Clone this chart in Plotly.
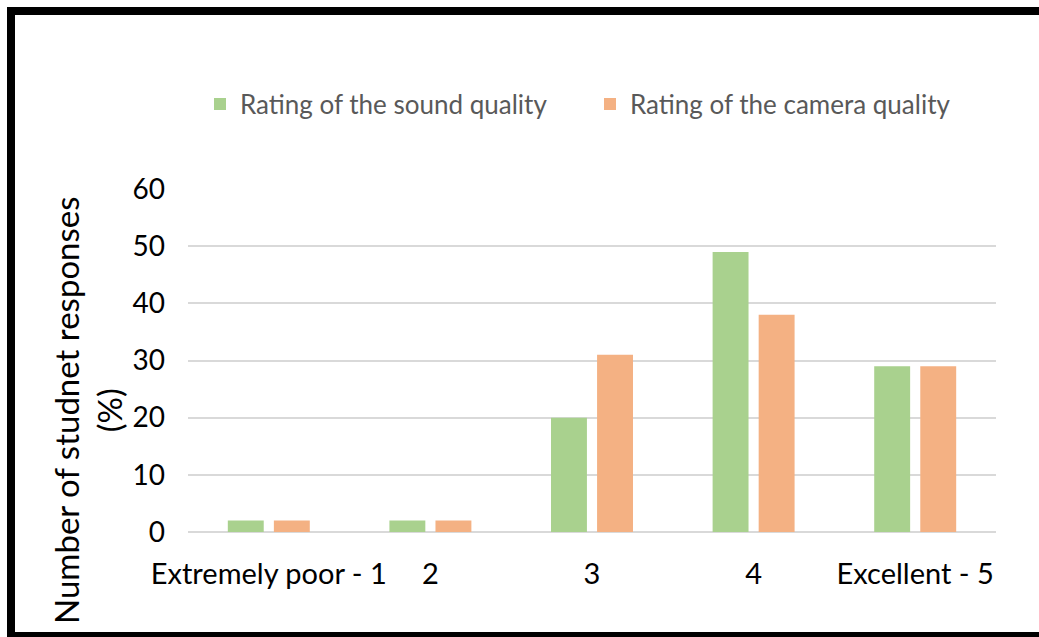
import plotly.graph_objects as go

categories = ["Extremely poor - 1", "2", "3", "4", "Excellent - 5"]
sound_quality = [2, 2, 20, 49, 29]
camera_quality = [2, 2, 31, 38, 29]
series_names = ["Rating of the sound quality", "Rating of the camera quality"]
y_ticks = [0, 10, 20, 30, 40, 50, 60]

W, H = 1039, 637
L, R, T, B = 188, 43, 189, 105
pw, ph = W - L - R, H - T - B

def px_x(x):
    return (x - L) / pw

def px_y(y):
    return (H - B - y) / ph

FONT = "Lato"

fig = go.Figure()
fig.add_trace(go.Bar(x=categories, y=sound_quality, name=series_names[0],
                     marker=dict(color="#a9d18e", line=dict(width=0))))
fig.add_trace(go.Bar(x=categories, y=camera_quality, name=series_names[1],
                     marker=dict(color="#f4b183", line=dict(width=0))))

fig.update_layout(
    width=W, height=H,
    margin=dict(l=L, r=R, t=T, b=B),
    paper_bgcolor="white", plot_bgcolor="white",
    barmode="group", bargap=0.43, bargroupgap=0.22,
    font=dict(family=FONT, color="#000000"),
    legend=dict(orientation="h", x=px_x(200), xanchor="left",
                y=px_y(104), yanchor="middle",
                font=dict(size=26, color="#595959", family=FONT),
                entrywidth=345, entrywidthmode="pixels",
                bgcolor="rgba(0,0,0,0)"),
    showlegend=True,
)
fig.update_xaxes(showgrid=False, showline=False, ticks="",
                 tickfont=dict(size=29, color="#000000", family=FONT),
                 ticklabelstandoff=22)
fig.update_yaxes(range=[0, 60], tickvals=y_ticks, showgrid=True,
                 gridcolor="#d9d9d9", gridwidth=1.5, zeroline=True,
                 zerolinecolor="#d9d9d9", zerolinewidth=1.5, showline=False,
                 ticks="", tickfont=dict(size=28, color="#000000", family=FONT),
                 ticklabelstandoff=22)

fig.add_annotation(text="Number of studnet responses<br>(%)",
                   x=px_x(87), y=px_y(410), xref="paper", yref="paper",
                   textangle=-90, showarrow=False, xanchor="center", yanchor="middle",
                   font=dict(size=33, color="#000000", family=FONT))

# outer black frame
fig.add_shape(type="rect", xref="paper", yref="paper",
              x0=px_x(11), x1=px_x(1050), y0=px_y(11), y1=px_y(636),
              line=dict(color="black", width=8), fillcolor="rgba(0,0,0,0)",
              layer="above")

fig.write_html("out.html")
